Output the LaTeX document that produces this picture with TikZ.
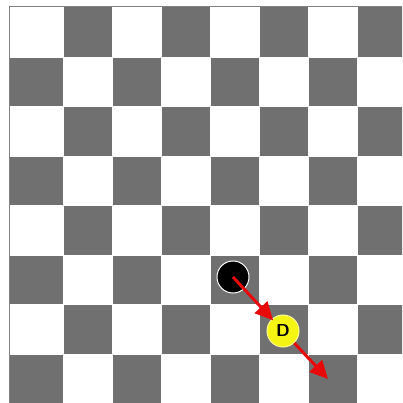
\documentclass[tikz,border=0pt]{standalone}
\usepackage{xcolor}
\usepackage{tikz}
\usetikzlibrary{arrows.meta}

\definecolor{darksq}{RGB}{112,112,112}
\definecolor{movered}{RGB}{230,10,10}
\definecolor{kingyel}{RGB}{245,245,20}

\tikzset{
    piece/.style={circle, minimum size=32pt, inner sep=0pt},
    move/.style={movered, line width=3pt, -{Triangle[length=18pt,width=17pt]}}
}

\begin{document}
\begin{tikzpicture}[x=1pt,y=-1pt]
        % Page frame
        \fill[white] (0,0) rectangle (402,403);
        \useasboundingbox (0,0) rectangle (402,403);

        % Draw the board
        \begin{scope}
            \clip (10,7) rectangle (402,403);
            \foreach \r in {0,...,7}
                \foreach \c in {0,...,7} {
                    \pgfmathparse{int(mod(\r+\c,2))}
                    \ifnum\pgfmathresult=1
                        \pgfmathsetmacro{\xa}{ifthenelse(\c==0,0,14+49*\c)}
                        \fill[darksq] (\xa,7.5+49.5*\r) rectangle (63+49*\c,57+49.5*\r);
                    \fi
                }
            \foreach \c in {1,...,7}
                \draw[white, line width=0.8pt] (14+49*\c,7) -- ++(0,396);
            \foreach \r in {1,...,7}
                \draw[white, line width=0.8pt] (10,7.5+49.5*\r) -- ++(392,0);
        \end{scope}
        \draw[gray, line width=1pt] (9.5,403) -- (9.5,6.5) -- (402,6.5);

        % Add pieces
        \node[piece, fill=black, draw=white, line width=1pt] (blk) at (233,277) {};
        \node[piece, fill=kingyel, draw=yellow!40!white, line width=1pt,
              font=\sffamily\bfseries\LARGE] (dee) at (283,331) {D};
        \coordinate (land) at (328,379);

        % Add moves
        \draw[move, shorten >=-2pt] (blk.center) -- (dee);
        \draw[move] (dee) -- (land);
    \end{tikzpicture}
\end{document}
